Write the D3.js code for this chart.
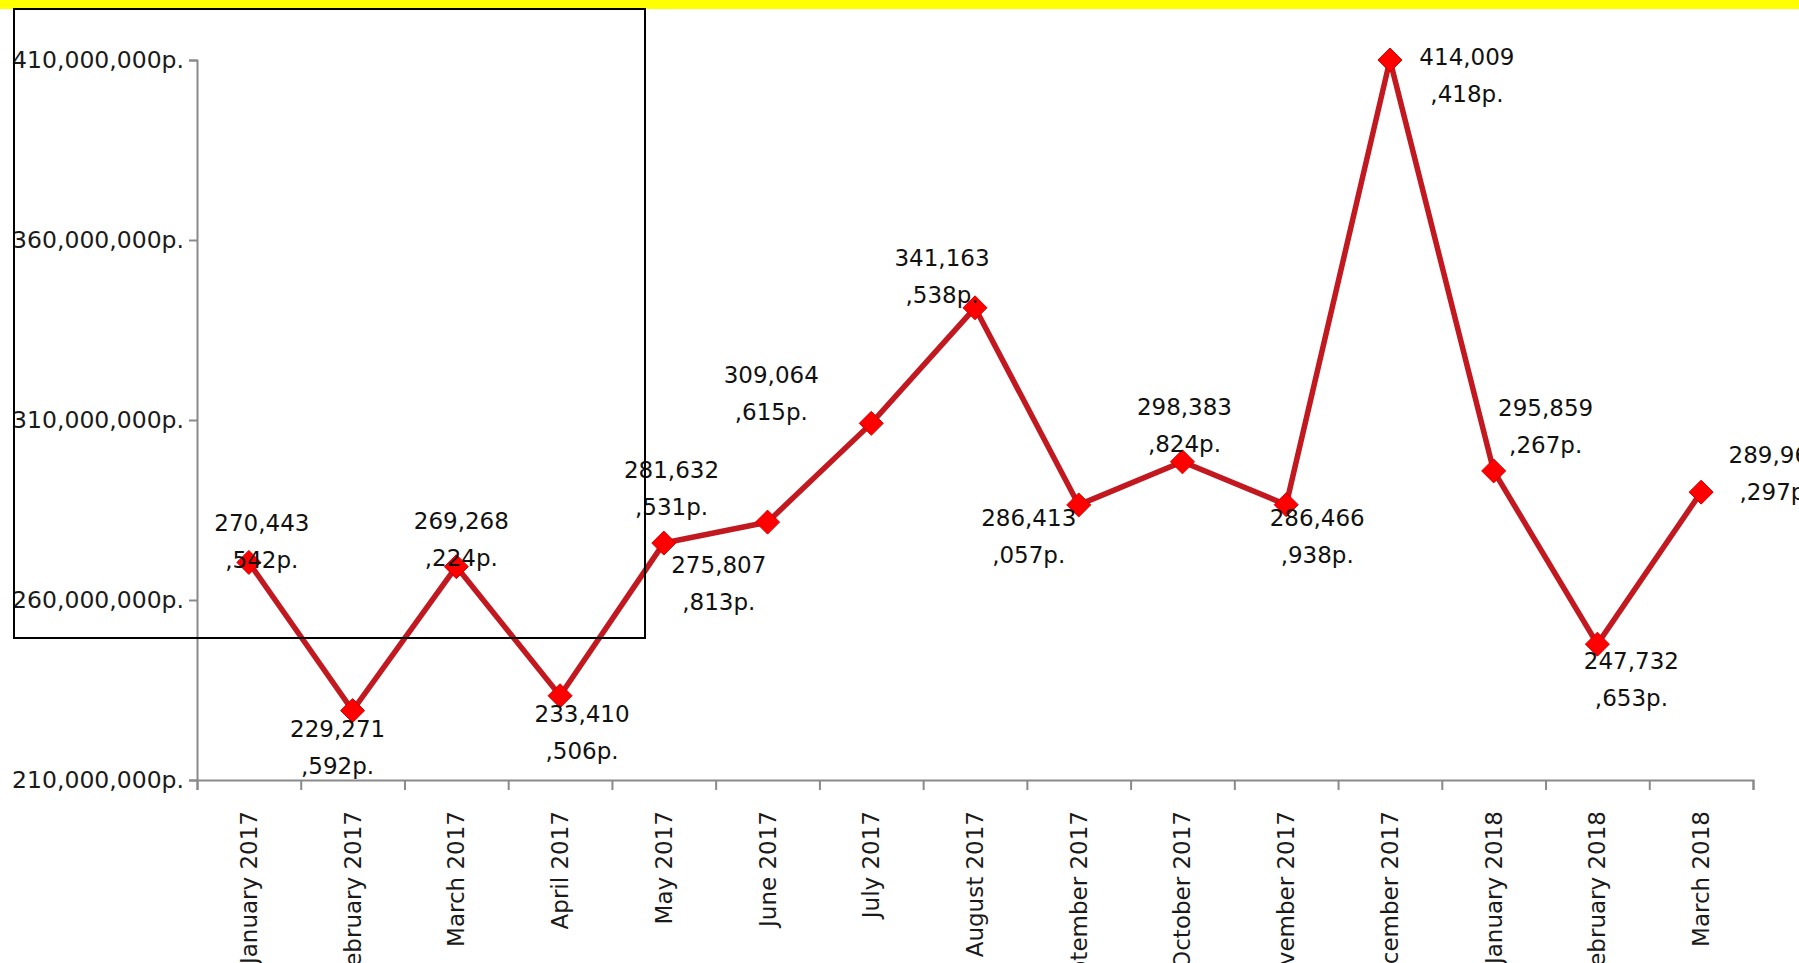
<!DOCTYPE html>
<html>
<head>
<meta charset="utf-8">
<script src="https://cdn.jsdelivr.net/npm/d3@7"></script>
<style>
  html, body { margin: 0; padding: 0; background: #fff; overflow: hidden; }
  svg { display: block; font-family: "DejaVu Sans", Verdana, sans-serif; }
</style>
</head>
<body>
<div id="chart"></div>
<script>
// Data
const months = ["January 2017", "February 2017", "March 2017", "April 2017", "May 2017",
    "June 2017", "July 2017", "August 2017", "September 2017", "October 2017",
    "November 2017", "December 2017", "January 2018", "February 2018", "March 2018"];
const amounts = [270443542, 229271592, 269268224, 233410506, 275807813,
    281632531, 309064615, 341163538, 286413057, 298383824,
    286466938, 414009418, 295859267, 247732653, 289960297];
const yTicks = [210000000, 260000000, 310000000, 360000000, 410000000];

// label offsets from each point (first line centre)
const labelOffsets = [[13, -39], [-15, 18], [5, -46], [22, 18], [55, 22],
    [-96, -52], [-100, -48], [-33, -50], [-50, 13], [2, -55],
    [31, 13], [77, -3], [52, -63], [34, 17], [75, -37]];

const W = 1799, H = 963;
const plotLeft = 197, plotRight = 1753, plotTop = 60, plotBottom = 780;

const svg = d3.select("#chart")
    .append("svg")
    .attr("width", W)
    .attr("height", H);

// yellow band on top
svg.append("rect")
    .attr("x", 0).attr("y", 0)
    .attr("width", W).attr("height", 9)
    .attr("fill", "#ffff00");

// Scales
const x = d3.scaleBand()
    .domain(months)
    .range([plotLeft, plotRight])
    .padding(0);

const xEdges = d3.scaleLinear()
    .domain([0, months.length])
    .range([plotLeft, plotRight]);

const y = d3.scaleLinear()
    .domain([210000000, 410000000])
    .range([plotBottom, plotTop])
    .clamp(true);

const fmt = d3.format(",");

// y axis
const yAxis = svg.append("g")
    .attr("transform", `translate(${plotLeft},0)`)
    .call(d3.axisLeft(y)
        .tickValues(yTicks)
        .tickFormat(d => fmt(d) + "p.")
        .tickSize(8)
        .tickPadding(5));
yAxis.selectAll("path, line").attr("stroke", "#8a8a8a").attr("stroke-width", 2);
yAxis.selectAll("text")
    .attr("font-size", 23.5)
    .attr("font-family", "DejaVu Sans, sans-serif")
    .attr("fill", "#1a1a1a");

// x axis (ticks on category boundaries)
const xAxis = svg.append("g")
    .attr("transform", `translate(0,${plotBottom})`)
    .call(d3.axisBottom(xEdges)
        .tickValues(d3.range(months.length + 1))
        .tickFormat("")
        .tickSize(10));
xAxis.selectAll("path, line").attr("stroke", "#8a8a8a").attr("stroke-width", 2);

// month labels, rotated
svg.append("g")
    .selectAll("text")
    .data(months)
    .join("text")
    .attr("transform", d => `translate(${x(d) + x.bandwidth() / 2 + 8},811) rotate(-90)`)
    .attr("text-anchor", "end")
    .attr("font-size", 23)
    .attr("fill", "#1a1a1a")
    .text(d => d);

// Line
const line = d3.line()
    .x((d, i) => x(months[i]) + x.bandwidth() / 2)
    .y(d => y(d));

svg.append("path")
    .datum(amounts)
    .attr("fill", "none")
    .attr("stroke", "#c2181f")
    .attr("stroke-width", 5.5)
    .attr("stroke-linejoin", "miter")
    .attr("d", line);

// diamond markers
svg.append("g")
    .selectAll("path")
    .data(amounts)
    .join("path")
    .attr("transform", (d, i) => `translate(${x(months[i]) + x.bandwidth() / 2},${y(d)})`)
    .attr("d", "M0,-12L12,0L0,12L-12,0Z")
    .attr("fill", "#ff0000")
    .attr("stroke", "#d00000")
    .attr("stroke-width", 1);

// data labels in two lines
const labels = svg.append("g")
    .selectAll("text")
    .data(amounts)
    .join("text")
    .attr("text-anchor", "middle")
    .attr("font-size", 23)
    .attr("fill", "#111")
    .attr("x", (d, i) => x(months[i]) + x.bandwidth() / 2 + labelOffsets[i][0])
    .attr("y", (d, i) => y(d) + labelOffsets[i][1] + 8);

labels.each(function(d, i) {
    const s = fmt(d);
    const cut = s.lastIndexOf(",");
    const t = d3.select(this);
    const cx = t.attr("x");
    t.append("tspan").attr("x", cx).text(s.slice(0, cut));
    t.append("tspan").attr("x", cx).attr("dy", 37).text(s.slice(cut) + "p.");
});

// stray black frame
svg.append("rect")
    .attr("x", 14).attr("y", 9)
    .attr("width", 631).attr("height", 629)
    .attr("fill", "none")
    .attr("stroke", "#000")
    .attr("stroke-width", 2);
</script>
</body>
</html>
